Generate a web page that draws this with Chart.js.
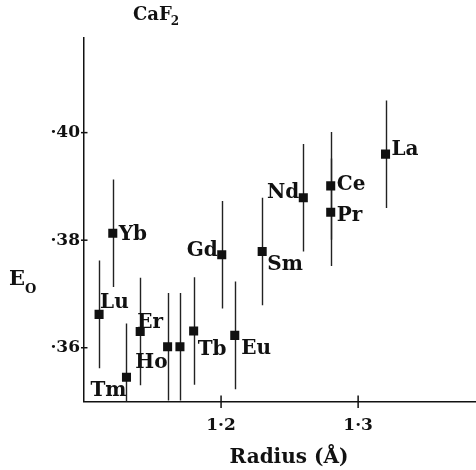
<!DOCTYPE html>
<html><head><meta charset="utf-8">
<script src="https://cdn.jsdelivr.net/npm/chart.js@4"></script>
<style>html,body{margin:0;padding:0;background:#fff;overflow:hidden}</style>
</head><body>
<canvas id="c" width="476" height="470"></canvas>
<script>
// ---- data ----
const elements = ['Lu','Yb','Tm','Er','Ho','Dy','Tb','Gd','Eu','Sm','Nd','Pr','Ce','La'];
const pointLabels = ['Lu','Yb','Tm','Er','Ho','','Tb','Gd','Eu','Sm','Nd','Pr','Ce','La'];
const radius = [1.111,1.121,1.131,1.141,1.161,1.170,1.180,1.2005,1.210,1.230,1.260,1.280,1.280,1.320];
const energy = [0.3662,0.3813,0.3545,0.3630,0.3602,0.3602,0.3631,0.3773,0.3623,0.3779,0.3879,0.3852,0.3901,0.3960];
const errors = [0.010,0.010,0.010,0.010,0.010,0.010,0.010,0.010,0.010,0.010,0.010,0.010,0.010,0.010];
const xTicks = [1.2, 1.3];
const yTicks = [0.36, 0.38, 0.40];
const chartTitle = 'CaF';
const chartTitleSub = '2';
const xTitle = 'Radius (Å)';
const yTitle = 'E';
const yTitleSub = 'O';

// ---- styles (label placement relative to each mark, in px) ----
const labelStyle = {
  Lu:{dx:1,dy:-6,align:'left'}, Yb:{dx:6,dy:6.5,align:'left'}, Tm:{dx:0,dy:19,align:'right'},
  Er:{dx:-3,dy:-4,align:'left'}, Ho:{dx:0,dy:21,align:'right'}, Tb:{dx:4,dy:24,align:'left'},
  Gd:{dx:-4,dy:1,align:'right'}, Eu:{dx:6.5,dy:19,align:'left'}, Sm:{dx:5,dy:19,align:'left'},
  Nd:{dx:-4,dy:0,align:'right'}, Pr:{dx:6,dy:9,align:'left'}, Ce:{dx:6,dy:4,align:'left'},
  La:{dx:6,dy:1,align:'left'}
};
const INK = '#111';
const FONT = '"DejaVu Serif", serif';
const fmt = v => { const s = v.toFixed(2); return s.startsWith('0') ? '·' + s.slice(2) : s.replace('.', '·').replace(/0$/, ''); };

const errorBars = {
  id: 'errorBars',
  beforeDatasetsDraw(chart) {
    const {ctx, chartArea: a, scales: {x, y}} = chart;
    ctx.save();
    ctx.beginPath(); ctx.rect(a.left, a.top, a.right - a.left, a.bottom - a.top); ctx.clip();
    ctx.strokeStyle = '#222'; ctx.lineWidth = 1.4;
    radius.forEach((r, i) => {
      const px = Math.round(x.getPixelForValue(r)) + 0.5;
      ctx.beginPath();
      ctx.moveTo(px, y.getPixelForValue(energy[i] + errors[i]));
      ctx.lineTo(px, y.getPixelForValue(energy[i] - errors[i]));
      ctx.stroke();
    });
    ctx.restore();
  }
};

const decorations = {
  id: 'decorations',
  afterDraw(chart) {
    const {ctx, chartArea: a, scales: {x, y}} = chart;
    ctx.save();
    ctx.strokeStyle = INK; ctx.lineWidth = 1.5;
    xTicks.forEach(v => { const px = x.getPixelForValue(v); ctx.beginPath(); ctx.moveTo(px, a.bottom - 6); ctx.lineTo(px, a.bottom + 6.5); ctx.stroke(); });
    yTicks.forEach(v => { const py = y.getPixelForValue(v); ctx.beginPath(); ctx.moveTo(a.left - 3, py); ctx.lineTo(a.left + 3.5, py); ctx.stroke(); });
    ctx.fillStyle = INK;
    ctx.textBaseline = 'alphabetic';
    ctx.font = 'bold 20px ' + FONT;
    radius.forEach((r, i) => {
      const t = pointLabels[i]; if (!t) return;
      const st = labelStyle[t];
      ctx.textAlign = st.align;
      ctx.fillText(t, x.getPixelForValue(r) + st.dx, y.getPixelForValue(energy[i]) + st.dy);
    });
    // title
    ctx.textAlign = 'left';
    ctx.font = 'bold 18px ' + FONT;
    ctx.fillText(chartTitle, 133, 20);
    const w = ctx.measureText(chartTitle).width;
    ctx.font = 'bold 12px ' + FONT;
    ctx.fillText(chartTitleSub, 133 + w - 1, 25);
    // y title
    ctx.font = 'bold 21px ' + FONT;
    ctx.fillText(yTitle, 9, 285);
    const we = ctx.measureText(yTitle).width;
    ctx.font = 'bold 13px ' + FONT;
    ctx.fillText(yTitleSub, 9 + we, 292.5);
    // x title
    ctx.font = 'bold 20px ' + FONT;
    ctx.textAlign = 'center';
    ctx.fillText(xTitle, 289, 463);
    ctx.restore();
  }
};

new Chart(document.getElementById('c'), {
  type: 'scatter',
  data: { datasets: [{
    data: radius.map((r, i) => ({x: r, y: energy[i]})),
    pointStyle: 'rect', pointRadius: 6.4, pointHoverRadius: 6.4,
    backgroundColor: INK, borderWidth: 0
  }]},
  options: {
    responsive: false, animation: false, devicePixelRatio: 1,
    layout: { autoPadding: false, padding: { top: 38, right: 0, left: 0, bottom: 0 } },
    plugins: { legend: {display: false}, tooltip: {enabled: false}, title: {display: false} },
    scales: {
      x: {
        type: 'linear', min: 1.10, max: 1.386,
        afterBuildTicks: s => { s.ticks = xTicks.map(v => ({value: v})); },
        afterFit: s => { s.height = 68.5; },
        grid: {display: false, drawTicks: false},
        border: {display: true, color: INK, width: 1.5},
        ticks: { autoSkip: false, maxRotation: 0, padding: 14, color: INK, font: {family: FONT, size: 17, weight: 'bold'}, callback: v => fmt(v) }
      },
      y: {
        type: 'linear', min: 0.350, max: 0.4176,
        afterBuildTicks: s => { s.ticks = yTicks.map(v => ({value: v})); },
        afterFit: s => { s.width = 84; },
        grid: {display: false, drawTicks: false},
        border: {display: true, color: INK, width: 1.5},
        ticks: { autoSkip: false, padding: 4, color: INK, font: {family: FONT, size: 17, weight: 'bold'}, callback: v => fmt(v) }
      }
    }
  },
  plugins: [errorBars, decorations]
});
</script>
</body></html>
